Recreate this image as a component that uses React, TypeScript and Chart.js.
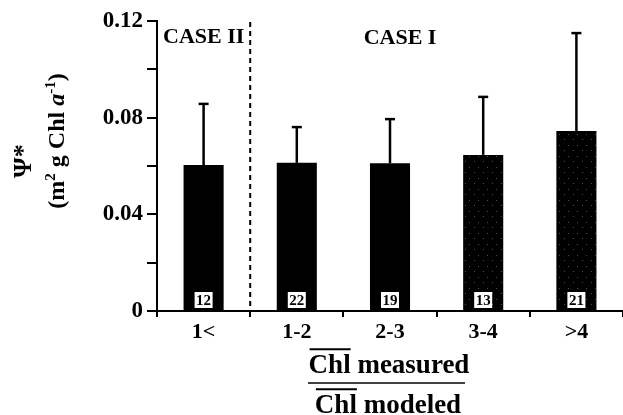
import { useEffect, useRef } from "react";
import { Chart, registerables } from "chart.js";

Chart.register(...registerables);

const categories = ["1<", "1-2", "2-3", "3-4", ">4"];
const meanValues = [0.0604, 0.0613, 0.0611, 0.0646, 0.0745];
const upperErrors = [0.0253, 0.0148, 0.0183, 0.024, 0.0405];
const sampleCounts = [12, 22, 19, 13, 21];
const speckledBars = [false, false, false, true, true];
const labeledTicks = [0, 0.04, 0.08, 0.12];
const caseLabels = ["CASE II", "CASE I"];

const SERIF = "'Liberation Serif', 'Times New Roman', serif";

type Part = { t: string; font: string; dy?: number };

function drawRich(ctx: CanvasRenderingContext2D, parts: Part[], cx: number, baseline: number) {
  let total = 0;
  for (const p of parts) {
    ctx.font = p.font;
    total += ctx.measureText(p.t).width;
  }
  let x = cx - total / 2;
  ctx.textAlign = "left";
  ctx.textBaseline = "alphabetic";
  for (const p of parts) {
    ctx.font = p.font;
    ctx.fillText(p.t, x, baseline + (p.dy || 0));
    x += ctx.measureText(p.t).width;
  }
}

function drawOverlinedTitle(ctx: CanvasRenderingContext2D, word: string, rest: string, cx: number, baseline: number, size: number) {
  const font = `bold ${size}px ${SERIF}`;
  ctx.font = font;
  const full = word + rest;
  const w = ctx.measureText(full).width;
  const ww = ctx.measureText(word).width;
  const x0 = cx - w / 2;
  ctx.textAlign = "left";
  ctx.textBaseline = "alphabetic";
  ctx.fillText(full, x0, baseline);
  const oy = baseline - size * 0.66 - 6;
  ctx.lineWidth = 2;
  ctx.beginPath();
  ctx.moveTo(x0 + 1, oy);
  ctx.lineTo(x0 + ww, oy);
  ctx.stroke();
}

const annotations = {
  id: "annotations",
  afterDatasetsDraw(chart: any) {
    const ctx: CanvasRenderingContext2D = chart.ctx;
    const xs = chart.scales.x;
    const ys = chart.scales.y;
    const area = chart.chartArea;
    const meta = chart.getDatasetMeta(0);
    ctx.save();
    ctx.strokeStyle = "#000";
    ctx.fillStyle = "#000";
    // error bars (upper only)
    meta.data.forEach((el: any, i: number) => {
      const yTop = ys.getPixelForValue(meanValues[i] + upperErrors[i]);
      ctx.lineWidth = 2.5;
      ctx.beginPath();
      ctx.moveTo(el.x, el.y);
      ctx.lineTo(el.x, yTop);
      ctx.stroke();
      ctx.beginPath();
      ctx.moveTo(el.x - 5, yTop);
      ctx.lineTo(el.x + 5, yTop);
      ctx.stroke();
    });
    // count boxes
    const y0 = ys.getPixelForValue(0);
    meta.data.forEach((el: any, i: number) => {
      const bw = 18;
      const bh = 16;
      ctx.fillStyle = "#fff";
      ctx.fillRect(el.x - bw / 2, y0 - 3 - bh, bw, bh);
      ctx.fillStyle = "#000";
      ctx.font = `bold 15px ${SERIF}`;
      ctx.textAlign = "center";
      ctx.textBaseline = "middle";
      ctx.fillText(String(sampleCounts[i]), el.x, y0 - 3 - bh / 2 + 1);
    });
    // dashed divider between case II and case I
    const xd = (xs.getPixelForValue(0) + xs.getPixelForValue(1)) / 2;
    ctx.setLineDash([5, 4]);
    ctx.lineWidth = 2;
    ctx.beginPath();
    ctx.moveTo(xd, area.top + 1);
    ctx.lineTo(xd, area.bottom);
    ctx.stroke();
    ctx.setLineDash([]);
    // case labels
    ctx.fillStyle = "#000";
    ctx.font = `bold 22px ${SERIF}`;
    ctx.textBaseline = "alphabetic";
    ctx.textAlign = "left";
    ctx.fillText(caseLabels[0], area.left + 6, 43);
    ctx.textAlign = "center";
    ctx.fillText(caseLabels[1], xs.getPixelForValue(2) + 10, 44);
    ctx.restore();
  },
  afterDraw(chart: any) {
    const ctx: CanvasRenderingContext2D = chart.ctx;
    ctx.save();
    ctx.fillStyle = "#000";
    ctx.strokeStyle = "#000";
    // y axis title, two rotated lines
    const big = `bold 24px ${SERIF}`;
    const sup = `bold 15px ${SERIF}`;
    ctx.save();
    ctx.translate(22, 161);
    ctx.rotate(-Math.PI / 2);
    drawRich(ctx, [{ t: "Ψ*", font: `bold 26px ${SERIF}` }], 0, 9);
    ctx.restore();
    ctx.save();
    ctx.translate(57, 141);
    ctx.rotate(-Math.PI / 2);
    drawRich(
      ctx,
      [
        { t: "(m", font: big },
        { t: "2", font: sup, dy: -9 },
        { t: " g Chl ", font: big },
        { t: "a", font: `italic bold 24px ${SERIF}` },
        { t: "-1", font: sup, dy: -9 },
        { t: ")", font: big },
      ],
      0,
      7
    );
    ctx.restore();
    // x axis title as a fraction
    drawOverlinedTitle(ctx, "Chl", " measured", 389, 373, 27);
    ctx.lineWidth = 1.5;
    ctx.beginPath();
    ctx.moveTo(308, 383);
    ctx.lineTo(465, 383);
    ctx.stroke();
    drawOverlinedTitle(ctx, "Chl", " modeled", 388, 413, 27);
    ctx.restore();
  },
};

export default function App() {
  const ref = useRef<HTMLCanvasElement | null>(null);
  useEffect(() => {
    const canvas = ref.current;
    if (!canvas) return;
    const pc = document.createElement("canvas");
    pc.width = 9;
    pc.height = 11;
    const pctx = pc.getContext("2d")!;
    pctx.fillStyle = "#000";
    pctx.fillRect(0, 0, 9, 11);
    pctx.fillStyle = "#505050";
    pctx.fillRect(1, 2, 1, 1);
    pctx.fillRect(6, 7, 1, 1);
    const ctx2 = canvas.getContext("2d")!;
    const pattern = ctx2.createPattern(pc, "repeat");
    const colors = speckledBars.map((s) => (s && pattern ? pattern : "#000"));

    const chart = new Chart(canvas, {
      type: "bar",
      data: {
        labels: categories,
        datasets: [
          {
            data: meanValues,
            backgroundColor: colors as any,
            borderWidth: 0,
            barPercentage: 0.43,
            categoryPercentage: 1,
          },
        ],
      },
      options: {
        animation: false,
        responsive: false,
        layout: { padding: { top: 21, left: 0, right: 0, bottom: 0 } },
        plugins: { legend: { display: false }, tooltip: { enabled: false } },
        scales: {
          x: {
            type: "category",
            offset: true,
            grid: {
              offset: true,
              drawOnChartArea: false,
              drawTicks: true,
              tickLength: 6,
              color: "#000",
              lineWidth: 2,
            },
            border: { display: true, color: "#000", width: 2 },
            ticks: {
              color: "#000",
              font: { family: SERIF, size: 22, weight: "bold" },
              padding: 2,
              maxRotation: 0,
              autoSkip: false,
            },
            afterFit: (s: any) => {
              s.height = 104;
            },
          },
          y: {
            min: 0,
            max: 0.12,
            ticks: {
              stepSize: 0.02,
              color: "#000",
              font: { family: SERIF, size: 23, weight: "bold" },
              padding: 4,
              callback: (v: any) => {
                const n = Number(v);
                const hit = labeledTicks.find((t) => Math.abs(t - n) < 1e-9);
                if (hit === undefined) return "";
                return hit === 0 ? "0" : hit.toFixed(2);
              },
            },
            grid: {
              drawOnChartArea: false,
              drawTicks: true,
              tickLength: 10,
              color: "#000",
              lineWidth: 2,
            },
            border: { display: true, color: "#000", width: 2 },
            afterFit: (s: any) => {
              s.width = 157;
            },
          },
        },
      },
      plugins: [annotations],
    });
    return () => chart.destroy();
  }, []);
  return (
    <div style={{ position: "fixed", left: 0, top: 0, width: 623, height: 415, background: "#fff" }}>
      <canvas ref={ref} width={623} height={415} />
    </div>
  );
}
